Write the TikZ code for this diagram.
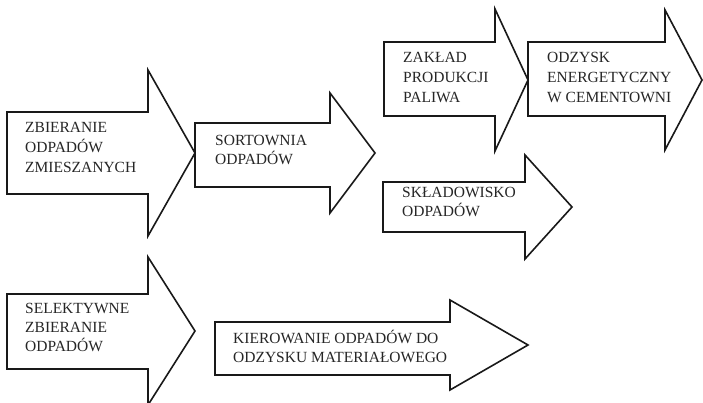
\documentclass[tikz,border=0pt]{standalone}
\usepackage{fontspec}
\setmainfont{Liberation Serif}
\tikzset{
  arrowshape/.style={draw=black!90, line width=1.6pt, fill=white, line join=miter},
  label/.style={anchor=base west, inner sep=0pt, align=left,
    font=\fontsize{15.5}{19}\selectfont, text=black!85}
}
\newcommand\fatarrow[7]{%
  \draw[arrowshape] (#1,#2) -- (#4,#2) -- (#4,#5) -- (#6,{(#5+#7)/2}) -- (#4,#7) -- (#4,#3) -- (#1,#3) -- cycle;}
\begin{document}
\begin{tikzpicture}[x=1pt,y=-1pt]
\useasboundingbox (0,0) rectangle (703,403);
% arrows: xl, yt, yb, xh, yht, xt, yhb
\fatarrow{7}{112}{194}{148}{70}{195}{236}
\fatarrow{195}{123}{187}{330}{93}{375}{213}
\fatarrow{384}{42}{116}{495}{9}{528}{151}
\fatarrow{528}{42}{116}{665}{10}{702}{150}
\fatarrow{383}{182}{232}{525}{155}{572}{259}
\fatarrow{7}{294}{369}{148}{257}{195}{405}
\fatarrow{215}{322}{375}{450}{300}{528}{390}
% texts (anchored at the baseline of the last line)
\node[label, font=\fontsize{15.5}{20}\selectfont] (zb) at (25,173) {ZBIERANIE\\ODPADÓW\\ZMIESZANYCH};
\node[label] (so) at (215,165) {SORTOWNIA\\ODPADÓW};
\node[label, font=\fontsize{15.5}{20}\selectfont] (za) at (403,103) {ZAKŁAD\\PRODUKCJI\\PALIWA};
\node[label, font=\fontsize{15.5}{20}\selectfont] (od) at (547,103) {ODZYSK\\ENERGETYCZNY\\W CEMENTOWNI};
\node[label] (sk) at (402,217) {SKŁADOWISKO\\ODPADÓW};
\node[label] (se) at (25,351) {SELEKTYWNE\\ZBIERANIE\\ODPADÓW};
\node[label] (ki) at (233,362) {KIEROWANIE ODPADÓW DO\\ODZYSKU MATERIAŁOWEGO};
\end{tikzpicture}
\end{document}
